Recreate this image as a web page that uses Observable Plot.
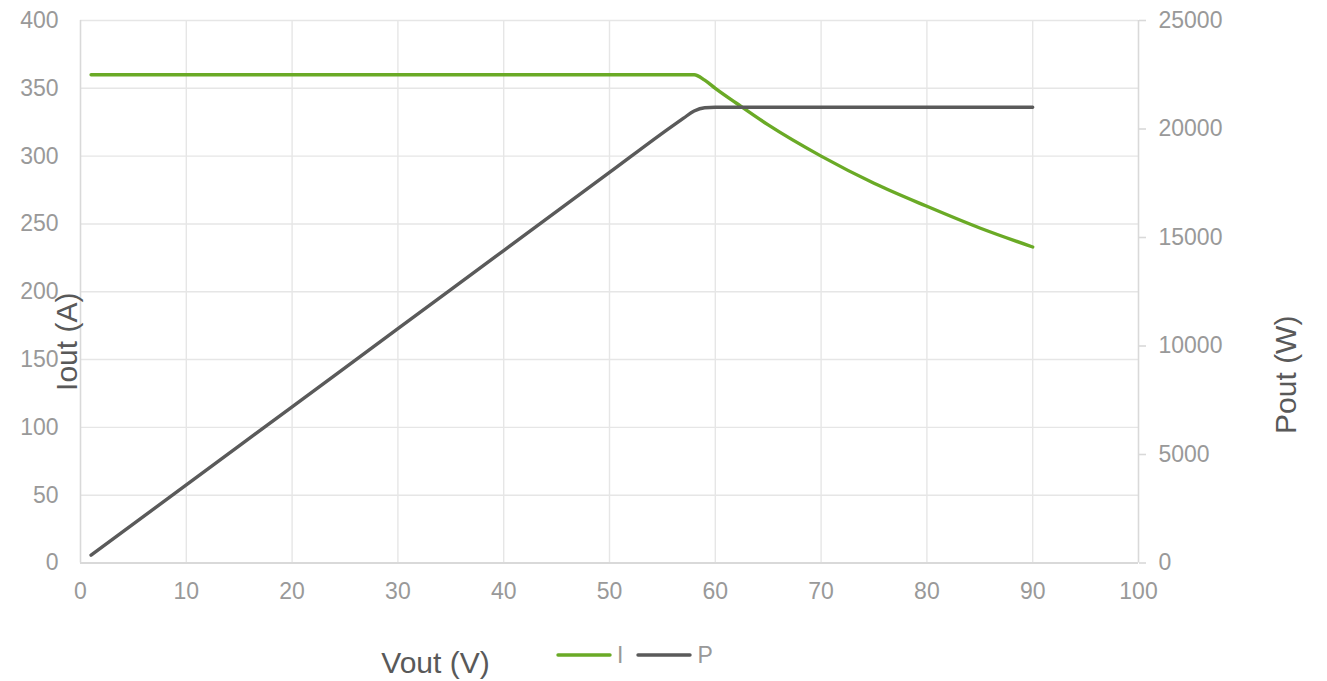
<!DOCTYPE html>
<html>
<head>
<meta charset="utf-8">
<script src="https://cdn.jsdelivr.net/npm/d3@7"></script>
<script src="https://cdn.jsdelivr.net/npm/@observablehq/plot@0.6"></script>
<style>
  html, body { margin: 0; padding: 0; background: #fff; }
  #wrap { position: relative; width: 1327px; height: 681px; font-family: "Liberation Sans", Arial, sans-serif; }
  #legend { position: absolute; left: 556px; top: 641px; display: flex; align-items: center; font-size: 23px; color: #999; line-height: 28px; }
  #legend .item { display: flex; align-items: center; margin-right: 13px; }
  #legend svg { margin-right: 5px; }
</style>
</head>
<body>
<div id="wrap"></div>
<script>
// Data
const vout = [1, 10, 20, 30, 40, 50, 56, 57, 58, 59, 60, 62, 65, 70, 75, 80, 85, 90];
const iout = [360, 360, 360, 360, 360, 360, 360, 360, 360, 356, 350, 339, 323, 300, 280, 263, 247, 233];
const pout = [360, 3600, 7200, 10800, 14400, 18000, 20160, 20500, 20830, 20980, 21000, 21000, 21000, 21000, 21000, 21000, 21000, 21000];

const xTicks = [0, 10, 20, 30, 40, 50, 60, 70, 80, 90, 100];
const iTicks = [0, 50, 100, 150, 200, 250, 300, 350, 400];
const pTicks = [0, 5000, 10000, 15000, 20000, 25000];
const seriesNames = ["I", "P"];
const seriesColors = ["#6aaa26", "#5a5a5a"];

const iMax = 400, pMax = 25000;
const toI = p => p * iMax / pMax;

const rows = vout.map((v, k) => ({v, i: iout[k], p: toI(pout[k])}));

const font = "Liberation Sans, Arial, sans-serif";

const chart = Plot.plot({
  width: 1327,
  height: 681,
  marginLeft: 80,
  marginRight: 189,
  marginTop: 20,
  marginBottom: 118.5,
  style: {fontFamily: font, background: "#fff"},
  x: {domain: [0, 100]},
  y: {domain: [0, 400]},
  marks: [
    Plot.gridY(iTicks.slice(1), {stroke: "#e6e6e6", strokeOpacity: 1, strokeWidth: 1.4}),
    Plot.gridX(xTicks.slice(1, -1), {stroke: "#e6e6e6", strokeOpacity: 1, strokeWidth: 1.4}),
    Plot.ruleX([0, 100], {stroke: "#d9d9d9", strokeWidth: 1.6}),
    Plot.ruleY([0], {stroke: "#d9d9d9", strokeWidth: 1.8}),
    Plot.axisY(iTicks, {anchor: "left", tickSize: 0, tickPadding: 22, fill: "#999", fontSize: 23, label: null}),
    Plot.axisY(pTicks.map(toI), {anchor: "right", tickSize: 7, tickPadding: 13, stroke: "#d9d9d9", strokeWidth: 1.6, fill: "#999", fontSize: 23, label: null, tickFormat: d => String(Math.round(d * pMax / iMax))}),
    Plot.axisX(xTicks, {anchor: "bottom", tickSize: 0, tickPadding: 20, fill: "#999", fontSize: 23, label: null}),
    Plot.line(rows, {x: "v", y: "i", stroke: seriesColors[0], strokeWidth: 3.4, curve: "monotone-x", strokeLinecap: "round"}),
    Plot.line(rows, {x: "v", y: "p", stroke: seriesColors[1], strokeWidth: 3.4, curve: "monotone-x", strokeLinecap: "round"}),
    Plot.text(["Iout (A)"], {frameAnchor: "left", dx: -13, dy: 50, rotate: -90, fontSize: 30, fill: "#595959", textAnchor: "middle", lineAnchor: "middle"}),
    Plot.text(["Pout (W)"], {frameAnchor: "right", dx: 148, dy: 83, rotate: -90, fontSize: 30, fill: "#595959", textAnchor: "middle", lineAnchor: "middle"}),
    Plot.text(["Vout (V)"], {frameAnchor: "bottom-left", dx: 355, dy: 100, fontSize: 30, fill: "#595959", textAnchor: "middle", lineAnchor: "middle"})
  ]
});

const wrap = document.getElementById("wrap");
wrap.appendChild(chart);

const legend = document.createElement("div");
legend.id = "legend";
seriesNames.forEach((name, k) => {
  const item = document.createElement("div");
  item.className = "item";
  item.innerHTML = `<svg width="56" height="8"><line x1="2" y1="4" x2="54" y2="4" stroke="${seriesColors[k]}" stroke-width="3.4" stroke-linecap="round"/></svg><span>${name}</span>`;
  legend.appendChild(item);
});
wrap.appendChild(legend);
</script>
</body>
</html>
